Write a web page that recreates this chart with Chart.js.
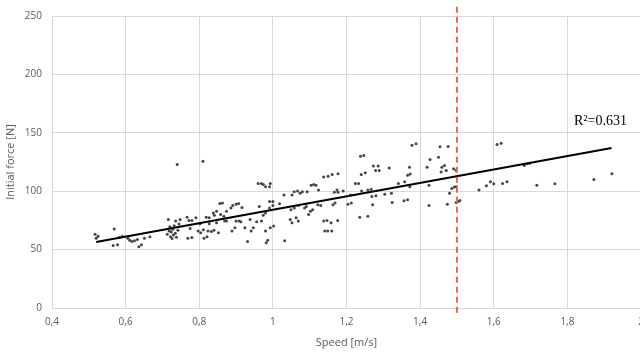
<!DOCTYPE html>
<html>
<head>
<meta charset="utf-8">
<script src="https://cdn.jsdelivr.net/npm/chart.js@4.4.1/dist/chart.umd.min.js"></script>
<style>
  html, body { margin: 0; padding: 0; background: #fff; overflow: hidden; }
  #wrap { width: 660px; height: 354px; position: relative; }
</style>
</head>
<body>
<div id="wrap"><canvas id="forceChart"></canvas></div>
<script>
const speeds = [
    0.517, 0.52, 0.525, 0.569, 0.566, 0.578, 0.582, 0.591, 0.606, 0.611, 0.617, 0.624, 0.632,
    0.636, 0.643, 0.651, 0.666,
    0.713, 0.716, 0.718, 0.72, 0.722, 0.724, 0.726, 0.728, 0.73, 0.732, 0.735, 0.738, 0.742, 0.745,
    0.74, 0.736, 0.748, 0.767, 0.772, 0.78, 0.769, 0.78, 0.775, 0.791, 0.802,
    0.797, 0.804, 0.811, 0.81, 0.813, 0.821, 0.819, 0.827, 0.827, 0.824, 0.833, 0.84,
    0.838, 0.847, 0.841, 0.847, 0.852, 0.856, 0.863, 0.858, 0.867, 0.874, 0.869, 0.874,
    0.886, 0.891, 0.9, 0.907, 0.889, 0.897, 0.9, 0.908, 0.913, 0.916, 0.924, 0.931,
    0.938, 0.941, 0.947, 0.956, 0.963, 0.96, 0.969, 0.974, 0.969, 0.974, 0.98, 0.98, 0.982, 0.986,
    0.98, 0.991, 0.993, 0.991, 1.0, 0.991, 1.0, 0.993, 1.002, 1.018, 1.03, 1.032,
    1.047, 1.052, 1.052, 1.058, 1.067, 1.074, 1.08, 1.049, 1.058, 1.069, 1.063, 1.069,
    1.086, 1.091, 1.093, 1.097, 1.102, 1.108, 1.104, 1.111, 1.117, 1.124, 1.122, 1.13,
    1.138, 1.15, 1.161, 1.138, 1.147, 1.158, 1.141, 1.149, 1.16, 1.163, 1.169,
    1.167, 1.174, 1.177, 1.177, 1.176, 1.191, 1.204, 1.213, 1.211, 1.224, 1.233,
    1.238, 1.247, 1.236, 1.258, 1.24, 1.251, 1.241, 1.258, 1.267, 1.269, 1.28, 1.271,
    1.273, 1.286, 1.279, 1.289, 1.316, 1.304, 1.322, 1.324, 1.341, 1.356, 1.366,
    1.358, 1.366, 1.373, 1.371, 1.372, 1.378, 1.389, 1.419, 1.424, 1.424, 1.427, 1.45,
    1.454, 1.476, 1.457, 1.466, 1.471, 1.459, 1.474, 1.48, 1.486, 1.493, 1.491, 1.498,
    1.498, 1.504, 1.508, 1.498, 1.56, 1.58, 1.591, 1.6, 1.609, 1.62, 1.624, 1.636,
    1.683, 1.691, 1.698, 1.717, 1.766, 1.872, 1.921
];
const forces = [
    63.1, 59.8, 61.5, 67.6, 53.6, 54.2, 60.3, 61.4, 59.8, 58.1, 57.0, 57.5, 58.6,
    52.5, 54.2, 59.8, 60.9,
    63.1, 75.8, 66.0, 69.5, 61.0, 65.0, 59.5, 67.5, 62.5, 70.5, 64.0, 60.5, 66.5, 72.0,
    122.9, 74.4, 75.8, 77.7, 74.9, 74.9, 59.8, 60.3, 68.0, 77.2, 72.1,
    65.9, 64.5, 67.1, 125.7, 59.8, 60.9, 77.7, 77.2, 72.1, 65.9, 65.4, 66.5,
    81.4, 82.8, 79.4, 73.0, 64.5, 89.5, 89.8, 80.0, 78.6, 82.8, 74.4, 74.4,
    85.6, 87.8, 88.9, 89.5, 65.9, 68.7, 74.4, 74.4, 73.8, 86.1, 68.7, 57.0,
    75.8, 65.9, 68.7, 73.8, 87.0, 106.6, 106.6, 105.8, 74.4, 79.4, 81.4, 65.9, 55.8, 58.1,
    103.8, 103.8, 106.6, 91.2, 91.2, 85.6, 87.8, 68.7, 70.1, 89.2, 96.8, 57.5,
    75.8, 73.0, 96.8, 99.6, 100.2, 98.2, 99.6, 84.2, 85.6, 87.8, 77.2, 74.4,
    85.6, 87.0, 99.6, 80.0, 82.8, 84.2, 105.2, 105.8, 105.2, 101.0, 88.4, 87.8,
    112.2, 112.8, 114.2, 74.4, 74.9, 73.0, 65.9, 65.9, 65.9, 88.4, 89.8,
    99.0, 101.0, 99.0, 115.0, 74.9, 100.2, 88.9, 89.8, 96.8, 106.6, 106.6,
    129.9, 130.5, 77.7, 78.6, 114.2, 115.9, 100.2, 101.0, 101.6, 95.4, 96.2, 88.4,
    121.5, 121.5, 117.8, 117.8, 119.8, 97.4, 98.2, 90.3, 106.6, 91.8, 92.6,
    108.0, 113.6, 114.8, 120.4, 103.8, 139.4, 140.6, 120.6, 105.2, 87.8, 127.1, 129.1,
    138.0, 138.3, 116.4, 122.0, 117.8, 120.6, 88.9, 98.2, 102.4, 103.5, 119.2, 117.8,
    90.3, 91.2, 92.0, 103.8, 101.0, 104.7, 108.0, 106.3, 140.0, 141.1, 106.6, 108.0,
    122.0, 123.5, 124.0, 105.2, 106.3, 110.0, 115.0
];
// linear trend line end points
const trendX = [0.52, 1.92];
const trendY = [56.5, 137.0];
// threshold speed (dashed line) and the span it is drawn over
const thresholdSpeed = 1.5;
const thresholdSpan = [-4, 258];
const rSquaredLabel = 'R\u00B2=0.631';

const xTicks = [0.4, 0.6, 0.8, 1, 1.2, 1.4, 1.6, 1.8, 2];
const yTicks = [0, 50, 100, 150, 200, 250];

const points = speeds.map((s, i) => ({ x: s, y: forces[i] }));
const trend = trendX.map((s, i) => ({ x: s, y: trendY[i] }));
const threshold = thresholdSpan.map(f => ({ x: thresholdSpeed, y: f }));

const labelPlugin = {
    id: 'r2label',
    afterDatasetsDraw(chart) {
        const { ctx, scales } = chart;
        ctx.save();
        ctx.font = '14px "Liberation Serif", "Times New Roman", serif';
        ctx.fillStyle = '#000';
        ctx.textAlign = 'center';
        ctx.textBaseline = 'middle';
        ctx.fillText(rSquaredLabel, scales.x.getPixelForValue(1.89), scales.y.getPixelForValue(160));
        ctx.restore();
    }
};

const tickFont = { family: '"Open Sans", "Noto Sans", sans-serif', size: 10 };

new Chart(document.getElementById('forceChart'), {
    type: 'scatter',
    data: {
        datasets: [
            {
                label: 'Measurements',
                data: points,
                pointRadius: 1.5,
                pointBackgroundColor: '#454545',
                pointBorderWidth: 0,
                order: 2
            },
            {
                type: 'line',
                label: 'Trend',
                data: trend,
                borderColor: '#000',
                borderWidth: 2.2,
                pointRadius: 0,
                order: 1
            },
            {
                type: 'line',
                label: 'Threshold',
                data: threshold,
                borderColor: '#ee6256',
                borderWidth: 2,
                borderDash: [6, 4],
                pointRadius: 0,
                clip: false,
                order: 0
            }
        ]
    },
    options: {
        responsive: true,
        maintainAspectRatio: false,
        animation: false,
        layout: { padding: { top: 13, right: 19, bottom: 0, left: 4 } },
        plugins: {
            legend: { display: false },
            tooltip: { enabled: false }
        },
        scales: {
            x: {
                type: 'linear',
                min: 0.4,
                max: 2,
                afterBuildTicks: s => { s.ticks = xTicks.map(v => ({ value: v })); },
                afterFit: s => { s.height = 46; },
                grid: { color: '#d9d9d9', drawTicks: false },
                border: { color: '#d9d9d9' },
                ticks: {
                    color: '#595959',
                    font: tickFont,
                    padding: 8,
                    callback: v => String(v).replace('.', ',')
                },
                title: {
                    display: true,
                    text: 'Speed [m/s]',
                    color: '#595959',
                    font: { family: tickFont.family, size: 11 },
                    padding: { top: 0, bottom: 5 }
                }
            },
            y: {
                min: 0,
                max: 250,
                afterBuildTicks: s => { s.ticks = yTicks.map(v => ({ value: v })); },
                afterFit: s => { s.width = 48; },
                grid: { color: '#d9d9d9', drawTicks: false },
                border: { color: '#d9d9d9' },
                ticks: {
                    color: '#595959',
                    font: tickFont,
                    padding: 10
                },
                title: {
                    display: true,
                    text: 'Initial force [N]',
                    color: '#595959',
                    font: { family: tickFont.family, size: 11 },
                    padding: { top: 0, bottom: 2 }
                }
            }
        }
    },
    plugins: [labelPlugin]
});
</script>
</body>
</html>
